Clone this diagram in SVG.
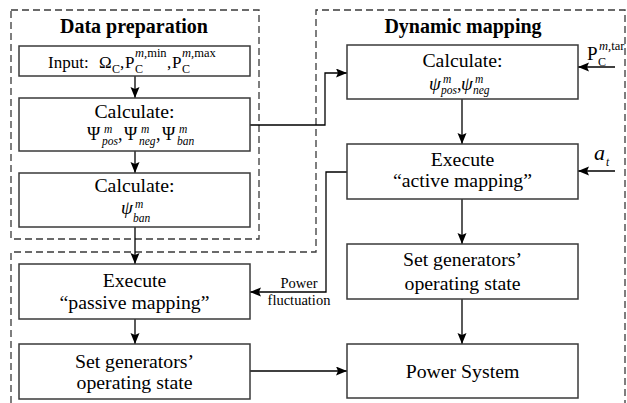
<svg xmlns="http://www.w3.org/2000/svg" width="627" height="403" viewBox="0 0 627 403" font-family="'Liberation Serif', 'Times New Roman', 'DejaVu Serif', serif">
  <defs>
    <marker id="arrow" markerUnits="userSpaceOnUse" markerWidth="12" markerHeight="10" refX="11" refY="4.5" orient="auto">
      <path d="M0,0 L11,4.5 L0,9 L2,4.5 z" fill="#000"/>
    </marker>
    <style>
      text { font-family: 'Liberation Serif', 'Times New Roman', 'DejaVu Serif', serif; fill: #000; }
      .box { fill: #fff; stroke: #3a3a3a; stroke-width: 1.5; }
      .region { fill: none; stroke: #3a3a3a; stroke-width: 1.3; stroke-dasharray: 7 4; }
      .title { font-size: 20px; font-weight: bold; text-anchor: middle; }
      .lbl { font-size: 19.8px; text-anchor: middle; }
      .small { font-size: 14.5px; text-anchor: middle; }
      .wire { fill: none; stroke: #000; stroke-width: 1.3; }
      .arr { marker-end: url(#arrow); }
      .it { font-style: italic; }
      .sup { font-size: 12.5px; }
      .sub { font-size: 12px; }
      .isub { font-size: 11.5px; font-style: italic; }
    </style>
  </defs>

  <!-- stage regions -->
  <g id="regions">
    <rect class="region" x="11" y="10" width="248" height="229"/>
    <path class="region" d="M11,403 V252 H316 V10 H625 V403"/>
    <text class="title" x="134" y="33">Data preparation</text>
    <text class="title" x="463" y="33">Dynamic mapping</text>
  </g>

  <!-- connectors -->
  <g id="connectors">
    <line class="wire arr" x1="135" y1="76" x2="135" y2="98"/>
    <line class="wire arr" x1="135" y1="151" x2="135" y2="173"/>
    <line class="wire arr" x1="135" y1="227" x2="135" y2="264"/>
    <line class="wire arr" x1="135" y1="319" x2="135" y2="344"/>
    <polyline class="wire arr" points="250,125 325,125 325,73 347,73"/>
    <line class="wire arr" x1="462" y1="99" x2="462" y2="144"/>
    <line class="wire arr" x1="462" y1="199" x2="462" y2="244"/>
    <line class="wire arr" x1="462" y1="299" x2="462" y2="344"/>
    <polyline class="wire arr" points="347,172 326,172 326,292 250,292"/>
    <line class="wire arr" x1="250" y1="371" x2="347" y2="371"/>
    <line class="wire arr" x1="615" y1="67" x2="578" y2="67"/>
    <line class="wire arr" x1="615" y1="171" x2="578" y2="171"/>
    <text class="small" x="299" y="288">Power</text>
    <text class="small" x="299" y="305">fluctuation</text>
    <!-- external inputs -->
    <text x="587" y="60" font-size="19">P</text>
    <text class="sub" x="598" y="66">C</text>
    <text class="sup" x="599" y="50"><tspan class="it">m</tspan>,tar</text>
    <text class="it" x="594" y="160" font-size="22">a</text>
    <text class="isub" x="606" y="166" font-size="13">t</text>
  </g>

  <!-- data preparation -->
  <g id="dp-input">
    <rect class="box" x="19" y="46" width="231" height="30"/>
    <text x="48" y="68" font-size="17">Input:</text>
    <text x="99" y="68" font-size="17">Ω</text>
    <text class="sub" x="112" y="73">C</text>
    <text x="120" y="68" font-size="17">,</text>
    <text x="125" y="68" font-size="17">P</text>
    <text class="sub" x="135" y="73">C</text>
    <text class="sup" x="135" y="57"><tspan class="it">m</tspan>,min</text>
    <text x="167" y="68" font-size="17">,</text>
    <text x="172" y="68" font-size="17">P</text>
    <text class="sub" x="182" y="73">C</text>
    <text class="sup" x="182" y="57"><tspan class="it">m</tspan>,max</text>
  </g>

  <g id="dp-calc-sets">
    <rect class="box" x="19" y="98" width="231" height="53"/>
    <text class="lbl" x="134.5" y="118">Calculate:</text>
    <text x="87" y="140" font-size="18">Ψ</text>
    <text class="isub" x="104" y="133">m</text>
    <text class="isub" x="102" y="145">pos</text>
    <text x="118" y="140" font-size="18">,</text>
    <text x="124" y="140" font-size="18">Ψ</text>
    <text class="isub" x="141" y="133">m</text>
    <text class="isub" x="139" y="145">neg</text>
    <text x="156" y="140" font-size="18">,</text>
    <text x="162" y="140" font-size="18">Ψ</text>
    <text class="isub" x="179" y="133">m</text>
    <text class="isub" x="177" y="145">ban</text>
  </g>

  <g id="dp-calc-ban">
    <rect class="box" x="19" y="173" width="231" height="54"/>
    <text class="lbl" x="134.5" y="192">Calculate:</text>
    <text class="it" x="121" y="214" font-size="19">ψ</text>
    <text class="isub" x="135" y="208">m</text>
    <text class="isub" x="133" y="222">ban</text>
  </g>

  <!-- passive branch -->
  <g id="pm-exec">
    <rect class="box" x="19" y="264" width="231" height="55"/>
    <text class="lbl" x="134.5" y="287">Execute</text>
    <text class="lbl" x="134.5" y="309">“passive mapping”</text>
  </g>

  <g id="pm-set">
    <rect class="box" x="19" y="344" width="231" height="55"/>
    <text class="lbl" x="134.5" y="368">Set generators’</text>
    <text class="lbl" x="134.5" y="389">operating state</text>
  </g>

  <!-- dynamic mapping -->
  <g id="dm-calc">
    <rect class="box" x="347" y="45" width="231" height="54"/>
    <text class="lbl" x="462.5" y="67">Calculate:</text>
    <text class="it" x="429" y="90" font-size="19">ψ</text>
    <text class="isub" x="443" y="83">m</text>
    <text class="isub" x="441" y="94">pos</text>
    <text x="457" y="90" font-size="18">,</text>
    <text class="it" x="461" y="90" font-size="19">ψ</text>
    <text class="isub" x="475" y="83">m</text>
    <text class="isub" x="473" y="94">neg</text>
  </g>

  <g id="dm-exec">
    <rect class="box" x="347" y="144" width="231" height="55"/>
    <text class="lbl" x="462.5" y="166">Execute</text>
    <text class="lbl" x="462.5" y="187">“active mapping”</text>
  </g>

  <g id="dm-set">
    <rect class="box" x="347" y="244" width="231" height="55"/>
    <text class="lbl" x="462.5" y="266">Set generators’</text>
    <text class="lbl" x="462.5" y="290">operating state</text>
  </g>

  <g id="power-system">
    <rect class="box" x="347" y="344" width="231" height="54"/>
    <text class="lbl" x="462.5" y="378">Power System</text>
  </g>
</svg>
